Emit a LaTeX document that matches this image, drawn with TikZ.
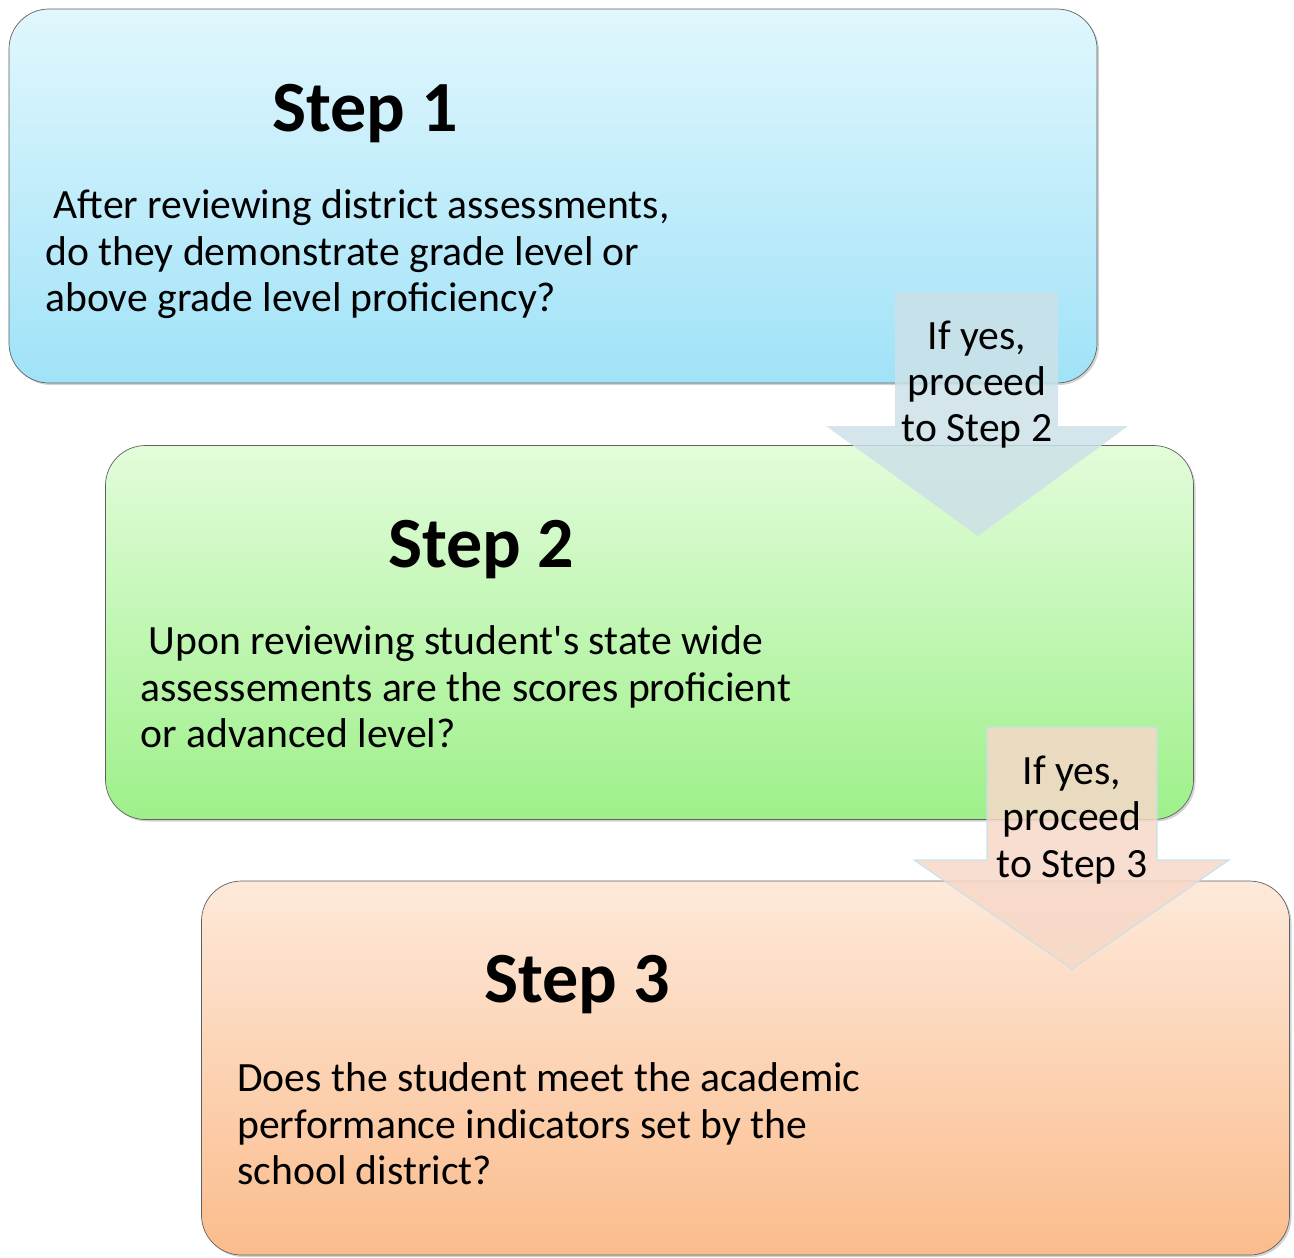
\documentclass[tikz,border=0pt]{standalone}
\usepackage{fontspec}
\setmainfont{Carlito}
\usetikzlibrary{positioning, shadows}
\definecolor{blueTop}{RGB}{225,247,253}
\definecolor{blueBot}{RGB}{160,226,248}
\definecolor{greenTop}{RGB}{226,252,218}
\definecolor{greenBot}{RGB}{158,240,138}
\definecolor{orangeTop}{RGB}{253,233,218}
\definecolor{orangeBot}{RGB}{251,188,140}
\definecolor{arrowBlue}{RGB}{204,225,232}
\definecolor{arrowPeach}{RGB}{246,216,200}
\definecolor{arrowEdge}{RGB}{190,225,236}
\tikzset{
	stepbox/.style={rectangle, rounded corners=8mm, draw=gray!75!black, line width=0.4pt, minimum width=217.6mm, minimum height=74.8mm, drop shadow={shadow xshift=0.4mm, shadow yshift=-0.4mm, opacity=0.35}},
	steptitle/.style={font=\fontsize{41}{48}\selectfont\bfseries, inner sep=0pt, anchor=base},
	steptext/.style={font=\fontsize{23.7}{26.6}\selectfont, align=left, anchor=north west, inner sep=0pt},
	yestext/.style={font=\fontsize{23.7}{26.2}\selectfont, align=center, anchor=north, inner sep=0pt},
	blockarrow/.style={opacity=0.85}
}

\begin{document}
\begin{tikzpicture}[x=0.2mm, y=-0.2mm]
	\useasboundingbox (0,0) rectangle (1294,1257);

	% Step 1
	\node[stepbox, top color=blueTop, bottom color=blueBot] (step1) at (553,196) {};
	\node[steptitle] (title1) at (365,131) {Step 1};
	\node[steptext] (text1) at (45,189) {\hspace{0.2em}After reviewing district assessments,\\do they demonstrate grade level or\\above grade level proficiency?};

	% Step 2
	\node[stepbox, top color=greenTop, bottom color=greenBot] (step2) at (649.5,632.5) {};
	\node[steptitle] (title2) at (481,567) {Step 2};
	\node[steptext] (text2) at (140,625) {\hspace{0.2em}Upon reviewing student\textquotesingle s state wide\\assessements are the scores proficient\\or advanced level?};

	% arrow 1 -> 2
	\fill[arrowBlue, blockarrow] (895,292) -- (1058,292) -- (1058,426) -- (1128,426) -- (978,536) -- (826,426) -- (895,426) -- cycle;
	\node[yestext] (yes2) at (977,321) {If yes,\\proceed\\to Step 2};

	% Step 3
	\node[stepbox, top color=orangeTop, bottom color=orangeBot] (step3) at (745.5,1068) {};
	\node[steptitle] (title3) at (577,1002) {Step 3};
	\node[steptext] (text3) at (237,1062) {Does the student meet the academic\\performance indicators set by the\\school district?};

	% arrow 2 -> 3
	\filldraw[fill=arrowPeach, draw=arrowEdge, line width=0.6pt, blockarrow] (987,727) -- (1157,727) -- (1157,860) -- (1229,860) -- (1072,969) -- (914,860) -- (987,860) -- cycle;
	\node[yestext] (yes3) at (1072,756) {If yes,\\proceed\\to Step 3};
\end{tikzpicture}
\end{document}
